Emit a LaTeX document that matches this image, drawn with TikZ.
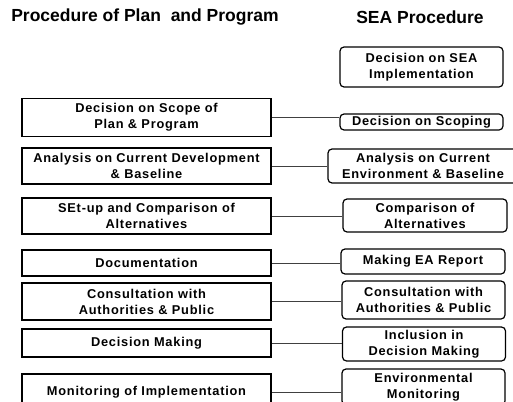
\documentclass[tikz,border=0pt]{standalone}
\usepackage{fontspec}
\setmainfont{Liberation Sans}
\begin{document}
\begin{tikzpicture}[x=1pt,y=-1pt,
  lbox/.style={draw=black,line width=1.6pt,inner sep=0pt,align=center,font=\fontsize{12.8}{16}\bfseries\addfontfeatures{LetterSpace=6}},
  rbox/.style={draw=black,line width=1.2pt,rounded corners=4pt,inner sep=0pt,align=center,font=\fontsize{12.8}{16}\bfseries\addfontfeatures{LetterSpace=6}},
  conn/.style={draw=black!75,line width=0.8pt},
  title/.style={font=\fontsize{17.5}{20}\bfseries,anchor=center}]
\useasboundingbox (0,0) rectangle (513,401);
\clip (0,0) rectangle (513,401);
\fill[white] (0,0) rectangle (513,401);
\node[title] (t1) at (145,17) {Procedure of Plan\ \ and Program};
\node[title] (t2) at (420,17) {SEA Procedure};
% left boxes
\newcommand{\lb}[4]{\node[lbox,minimum width=249pt,minimum height=#3pt] (#1) at (146.5,#2) {#4};}
\lb{l1}{117.5}{38}{Decision on Scope of\\Plan \& Program}
\lb{l2}{166}{36}{Analysis on Current Development\\\& Baseline}
\lb{l3}{216}{36}{SEt-up and Comparison of\\Alternatives}
\lb{l4}{263}{26}{Documentation}
\lb{l5}{301.5}{37}{Consultation with\\Authorities \& Public}
\lb{l6}{343}{28}{Decision Making}
\lb{l7}{392}{36}{Monitoring of Implementation}
% right boxes
\node[rbox,minimum width=163pt,minimum height=40pt] (r0) at (421.5,67) {Decision on SEA\\Implementation};
\node[rbox,minimum width=163pt,minimum height=16pt] (r1) at (421.5,122) {Decision on Scoping};
\node[rbox,minimum width=190pt,minimum height=34pt] (r2) at (423,166) {Analysis on Current\\Environment \& Baseline};
\node[rbox,minimum width=164pt,minimum height=33pt] (r3) at (425,215.5) {Comparison of\\Alternatives};
\node[rbox,minimum width=164pt,minimum height=25pt] (r4) at (423,261.5) {Making EA Report};
\node[rbox,minimum width=163pt,minimum height=38pt] (r5) at (423.5,300) {Consultation with\\Authorities \& Public};
\node[rbox,minimum width=163pt,minimum height=34pt] (r6) at (424,344) {Inclusion in\\Decision Making};
\node[rbox,minimum width=163pt,minimum height=36pt] (r7) at (423.5,387) {Environmental\\Monitoring};
% connectors
\foreach \i in {1,...,7}{\draw[conn] (l\i.east) -- (l\i.east -| r\i.west);}
\end{tikzpicture}
\end{document}
